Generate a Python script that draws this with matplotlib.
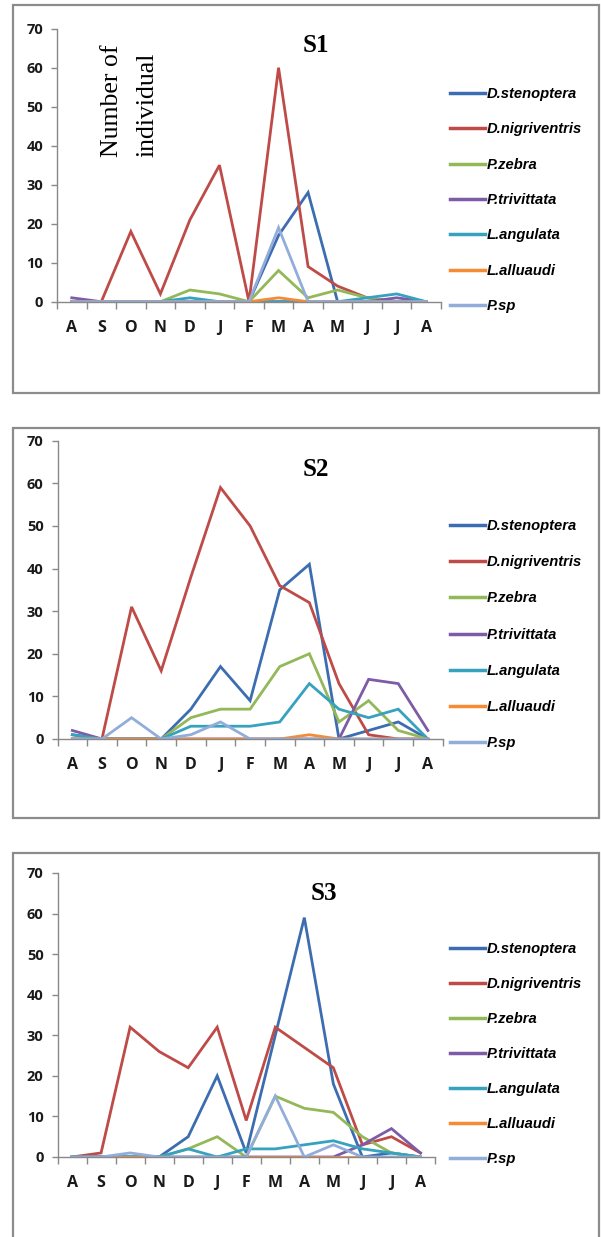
import matplotlib
matplotlib.use("Agg")
import matplotlib.pyplot as plt
from matplotlib.patches import Rectangle

months = ["A", "S", "O", "N", "D", "J", "F", "M", "A", "M", "J", "J", "A"]
species = ["D.stenoptera", "D.nigriventris", "P.zebra", "P.trivittata",
           "L.angulata", "L.alluaudi", "P.sp"]
colors = ["#3C6DB0", "#BE4B48", "#93B858", "#7D5BA6", "#36A2BE", "#F58B35", "#92ADD9"]

# site S1
s1_stenoptera   = [0, 0, 0, 0, 0, 0, 0, 17, 28, 0, 0, 0, 0]
s1_nigriventris = [0, 0, 18, 2, 21, 35, 0, 60, 9, 4, 1, 0, 0]
s1_zebra        = [0, 0, 0, 0, 3, 2, 0, 8, 1, 3, 1, 0, 0]
s1_trivittata   = [1, 0, 0, 0, 0, 0, 0, 0, 0, 0, 0, 1, 0]
s1_angulata     = [0, 0, 0, 0, 1, 0, 0, 0, 0, 0, 1, 2, 0]
s1_alluaudi     = [0, 0, 0, 0, 0, 0, 0, 1, 0, 0, 0, 0, 0]
s1_sp           = [0, 0, 0, 0, 0, 0, 0, 19, 0, 0, 0, 0, 0]

# site S2
s2_stenoptera   = [1, 0, 0, 0, 7, 17, 9, 35, 41, 0, 2, 4, 0]
s2_nigriventris = [0, 0, 31, 16, 38, 59, 50, 36, 32, 13, 1, 0, 0]
s2_zebra        = [0, 0, 0, 0, 5, 7, 7, 17, 20, 4, 9, 2, 0]
s2_trivittata   = [2, 0, 0, 0, 0, 0, 0, 0, 0, 0, 14, 13, 2]
s2_angulata     = [1, 0, 0, 0, 3, 3, 3, 4, 13, 7, 5, 7, 0]
s2_alluaudi     = [0, 0, 0, 0, 0, 0, 0, 0, 1, 0, 0, 0, 0]
s2_sp           = [0, 0, 5, 0, 1, 4, 0, 0, 0, 0, 0, 0, 0]

# site S3
s3_stenoptera   = [0, 0, 0, 0, 5, 20, 1, 30, 59, 18, 0, 1, 0]
s3_nigriventris = [0, 1, 32, 26, 22, 32, 9, 32, 27, 22, 3, 5, 1]
s3_zebra        = [0, 0, 0, 0, 2, 5, 0, 15, 12, 11, 5, 1, 0]
s3_trivittata   = [0, 0, 0, 0, 0, 0, 0, 0, 0, 0, 3, 7, 1]
s3_angulata     = [0, 0, 0, 0, 2, 0, 2, 2, 3, 4, 2, 1, 0]
s3_alluaudi     = [0, 0, 0, 0, 0, 0, 0, 0, 0, 0, 0, 0, 0]
s3_sp           = [0, 0, 1, 0, 0, 0, 0, 15, 0, 3, 0, 0, 0]

sites = ["S1", "S2", "S3"]
site_data = [
    [s1_stenoptera, s1_nigriventris, s1_zebra, s1_trivittata, s1_angulata, s1_alluaudi, s1_sp],
    [s2_stenoptera, s2_nigriventris, s2_zebra, s2_trivittata, s2_angulata, s2_alluaudi, s2_sp],
    [s3_stenoptera, s3_nigriventris, s3_zebra, s3_trivittata, s3_angulata, s3_alluaudi, s3_sp],
]

W, H = 601, 1237
fig = plt.figure(figsize=(W / 100, H / 100), dpi=100)

# pixel layout of each panel: axes box, border box, title, legend (top-left), legend spacing
panels = [
    dict(ax=(57, 441, 301.7, 28.7), box=(13, 599, 5, 393), title=(316, 45), leg=(450, 87), sp=1.45),
    dict(ax=(57.5, 442.7, 739, 440.7), box=(13, 599, 428, 818), title=(316, 470), leg=(450, 519), sp=1.51),
    dict(ax=(57.5, 435, 1157, 873), box=(13, 599, 853, 1250), title=(324, 893), leg=(450, 942), sp=1.43),
]

gray = "#898989"
x = list(range(len(months)))

for site, series, p in zip(sites, site_data, panels):
    bx0, bx1, by0, by1 = p["box"]
    fig.add_artist(Rectangle((bx0 / W, 1 - by1 / H), (bx1 - bx0) / W, (by1 - by0) / H,
                             transform=fig.transFigure, fill=False,
                             edgecolor="#8c8c8c", linewidth=1.6))

    x0, x1, y0, y1 = p["ax"]
    ax = fig.add_axes([x0 / W, 1 - y0 / H, (x1 - x0) / W, (y0 - y1) / H])
    for name, vals, c in zip(species, series, colors):
        ax.plot(x, vals, color=c, linewidth=2.0, label=name, solid_joinstyle="miter")

    ax.set_xlim(-0.5, len(months) - 0.5)
    ax.set_ylim(0, 70)
    ax.set_yticks(range(0, 71, 10))
    ax.set_xticks([i - 0.5 for i in range(len(months) + 1)])
    ax.set_xticklabels([])
    ax.set_xticks(x, minor=True)
    ax.set_xticklabels(months, minor=True)
    ax.tick_params(axis="x", which="minor", length=0, pad=13, labelsize=11.5)
    ax.tick_params(axis="x", which="major", length=5, color=gray, width=1)
    ax.tick_params(axis="y", length=4, color=gray, width=1, pad=6, labelsize=10.5)
    for lab in ax.get_xticklabels(minor=True) + ax.get_yticklabels():
        lab.set_fontweight("bold")
        lab.set_family("Open Sans")
        lab.set_color("#1a1a1a")
    for s in ["top", "right"]:
        ax.spines[s].set_visible(False)
    for s in ["left", "bottom"]:
        ax.spines[s].set_color(gray)
        ax.spines[s].set_linewidth(1)

    tx, ty = p["title"]
    fig.text(tx / W, 1 - ty / H, site, ha="center", va="center",
             fontsize=18, fontweight="bold", family="Liberation Serif")

    lx, ly = p["leg"]
    leg = ax.legend(loc="upper left", bbox_to_anchor=(lx / W, 1 - ly / H),
                    bbox_transform=fig.transFigure, frameon=False,
                    handlelength=2.4, handletextpad=0.12, labelspacing=p["sp"],
                    borderaxespad=0, borderpad=0,
                    prop=dict(family="Liberation Sans", weight="bold", style="italic", size=10.6))
    for line in leg.get_lines():
        line.set_linewidth(2.5)

fig.text(112 / W, 1 - 157 / H, "Number of", rotation=90, ha="center", va="bottom",
         fontsize=18.5, family="Liberation Serif")
fig.text(148 / W, 1 - 157 / H, "individual", rotation=90, ha="center", va="bottom",
         fontsize=18.5, family="Liberation Serif")

fig.savefig("out.png", dpi=100)
